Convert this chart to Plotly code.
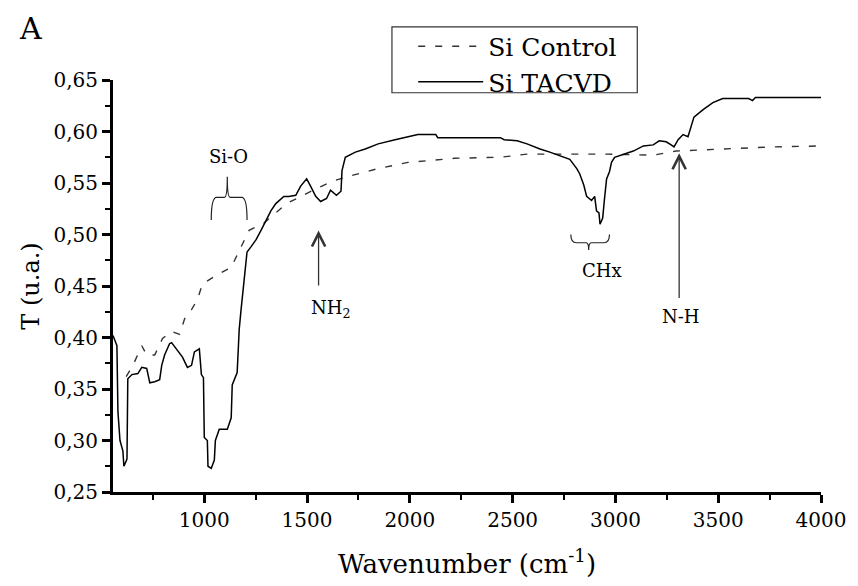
import plotly.graph_objects as go

# FTIR spectra (transmittance, arbitrary units)
tacvd_wn = [556, 575, 580, 590, 604, 609, 624, 628, 648, 677, 696, 720, 735, 759, 783, 793,
            807, 831, 841, 865, 894, 918, 938, 952, 976, 986, 996, 1000, 1015, 1018, 1034,
            1049, 1054, 1073, 1112, 1131, 1136, 1160, 1170, 1179, 1194, 1208, 1227, 1252,
            1276, 1290, 1324, 1348, 1363, 1387, 1411, 1445, 1469, 1498, 1517, 1542, 1566,
            1595, 1614, 1643, 1665, 1670, 1686, 1735, 1783, 1846, 1928, 2005, 2039, 2126,
            2136, 2281, 2440, 2459, 2522, 2570, 2633, 2681, 2749, 2778, 2812, 2826, 2846,
            2860, 2884, 2899, 2908, 2920, 2925, 2938, 2947, 2957, 2971, 2981, 2996, 3039,
            3087, 3136, 3184, 3213, 3247, 3271, 3285, 3305, 3329, 3353, 3367, 3382, 3425,
            3474, 3522, 3648, 3667, 3681, 4000]
tacvd_t = [0.402, 0.392, 0.328, 0.300, 0.290, 0.275, 0.282, 0.360, 0.364, 0.365, 0.371, 0.370,
           0.356, 0.357, 0.359, 0.373, 0.383, 0.394, 0.395, 0.389, 0.381, 0.371, 0.373, 0.386,
           0.389, 0.364, 0.361, 0.303, 0.300, 0.275, 0.273, 0.281, 0.300, 0.311, 0.311, 0.322,
           0.354, 0.366, 0.408, 0.427, 0.456, 0.483, 0.488, 0.495, 0.504, 0.510, 0.523, 0.530,
           0.533, 0.537, 0.537, 0.538, 0.547, 0.554, 0.547, 0.537, 0.532, 0.535, 0.543, 0.538,
           0.542, 0.562, 0.575, 0.580, 0.583, 0.588, 0.592, 0.595, 0.597, 0.597, 0.594, 0.594,
           0.594, 0.592, 0.591, 0.588, 0.583, 0.580, 0.575, 0.573, 0.564, 0.559, 0.548, 0.537,
           0.533, 0.537, 0.523, 0.521, 0.510, 0.516, 0.535, 0.554, 0.561, 0.570, 0.575, 0.578,
           0.581, 0.586, 0.587, 0.591, 0.590, 0.587, 0.585, 0.592, 0.597, 0.595, 0.605, 0.614,
           0.621, 0.628, 0.632, 0.632, 0.630, 0.633, 0.633]

control_wn = [620, 653, 696, 720, 759, 797, 841, 880, 904, 938, 967, 991, 1063, 1131, 1179,
              1218, 1290, 1400, 1550, 1628, 1711, 1846, 1991, 2097, 2218, 2440, 2570, 2812,
              2957, 3184, 3295, 3522, 3764, 4000]
control_t = [0.362, 0.373, 0.392, 0.383, 0.383, 0.399, 0.406, 0.403, 0.418, 0.427, 0.437,
             0.452, 0.461, 0.468, 0.488, 0.504, 0.511, 0.530, 0.545, 0.552, 0.557, 0.564,
             0.570, 0.572, 0.574, 0.575, 0.578, 0.578, 0.578, 0.577, 0.581, 0.583, 0.585, 0.586]

# band labels: (wavenumber, label y, text)
band_labels = [(1117, 0.576, 'Si-O'), (1615, 0.428, 'NH<sub>2</sub>'),
               (2935, 0.465, 'CHx'), (3318, 0.420, 'N-H')]
# arrows: (wavenumber, tip, tail)
band_arrows = [(1556, 0.504, 0.449), (3310, 0.579, 0.437)]

SERIF = "DejaVu Serif"

fig = go.Figure()
fig.add_trace(go.Scatter(x=control_wn, y=control_t, mode='lines', name='Si Control',
                         line=dict(color='#333333', width=1.4, dash='7px,10px')))
fig.add_trace(go.Scatter(x=tacvd_wn, y=tacvd_t, mode='lines', name='Si TACVD',
                         line=dict(color='black', width=1.5)))

# braces (Si-O opens downward, CHx opens upward)
brace_sio = "M 1034,0.514 Q 1034,0.536 1060,0.536 L 1098,0.536 Q 1112,0.536 1112,0.556 " \
            "Q 1112,0.536 1126,0.536 L 1182,0.536 Q 1208,0.536 1208,0.514"
brace_chx = "M 2783,0.500 Q 2783,0.492 2810,0.492 L 2858,0.492 Q 2870,0.492 2870,0.485 " \
            "Q 2870,0.492 2882,0.492 L 2944,0.492 Q 2971,0.492 2971,0.500"
for p in (brace_sio, brace_chx):
    fig.add_shape(type='path', path=p, xref='x', yref='y', line=dict(color='#222', width=1.2))

# legend box
fig.add_shape(type='rect', xref='paper', yref='paper', x0=0.394, x1=0.7405, y0=0.969, y1=1.129,
              line=dict(color='#333', width=1.2), fillcolor='white', layer='above')

for x, tip, tail in band_arrows:
    fig.add_annotation(x=x, y=tip, ax=x, ay=tail, xref='x', yref='y', axref='x', ayref='y',
                       text='', showarrow=True, arrowhead=5, arrowsize=2, arrowwidth=1.3,
                       arrowcolor='#333')

for x, y, t in band_labels:
    fig.add_annotation(x=x, y=y, xref='x', yref='y', text=t, showarrow=False,
                       font=dict(family=SERIF, size=18, color='black'))

fig.add_annotation(x=-0.116, y=1.124, xref='paper', yref='paper', text='A', showarrow=False,
                   xanchor='center', yanchor='middle',
                   font=dict(family=SERIF, size=30, color='black'))

axis_common = dict(showline=True, linecolor='black', linewidth=3, ticks='outside',
                   tickwidth=2.5, ticklen=8, tickcolor='black', showgrid=False, zeroline=False,
                   tickfont=dict(family=SERIF, size=20, color='black'))

fig.update_layout(
    width=858, height=586,
    margin=dict(l=113, r=32, t=80, b=87),
    plot_bgcolor='white', paper_bgcolor='white',
    separators=', ',
    showlegend=True,
    legend=dict(x=0.424, y=1.137, xanchor='left', yanchor='top', bgcolor='rgba(0,0,0,0)',
                borderwidth=0, itemwidth=65, tracegroupgap=0,
                font=dict(family=SERIF, size=25, color='black')),
    xaxis=dict(range=[556, 4000], tick0=0, dtick=500,
               minor=dict(ticks='outside', ticklen=5, tickwidth=2, dtick=250, tick0=0,
                          tickcolor='black'),
               title=dict(text='Wavenumber (cm<sup>-1</sup>)', standoff=24,
                          font=dict(family=SERIF, size=26, color='black')),
               **axis_common),
    yaxis=dict(range=[0.25, 0.65], tick0=0.25, dtick=0.05, tickformat='.2f',
               minor=dict(ticks='outside', ticklen=5, tickwidth=2, dtick=0.025, tick0=0.25,
                          tickcolor='black'),
               title=dict(text='T (u.a.)', standoff=8,
                          font=dict(family=SERIF, size=24, color='black')),
               **axis_common),
)

# drop the default 8px page margin so the 858x586 figure fills the window exactly
fig.write_html("out.html", config={'displayModeBar': False},
               post_script="document.body.style.margin='0px';")
